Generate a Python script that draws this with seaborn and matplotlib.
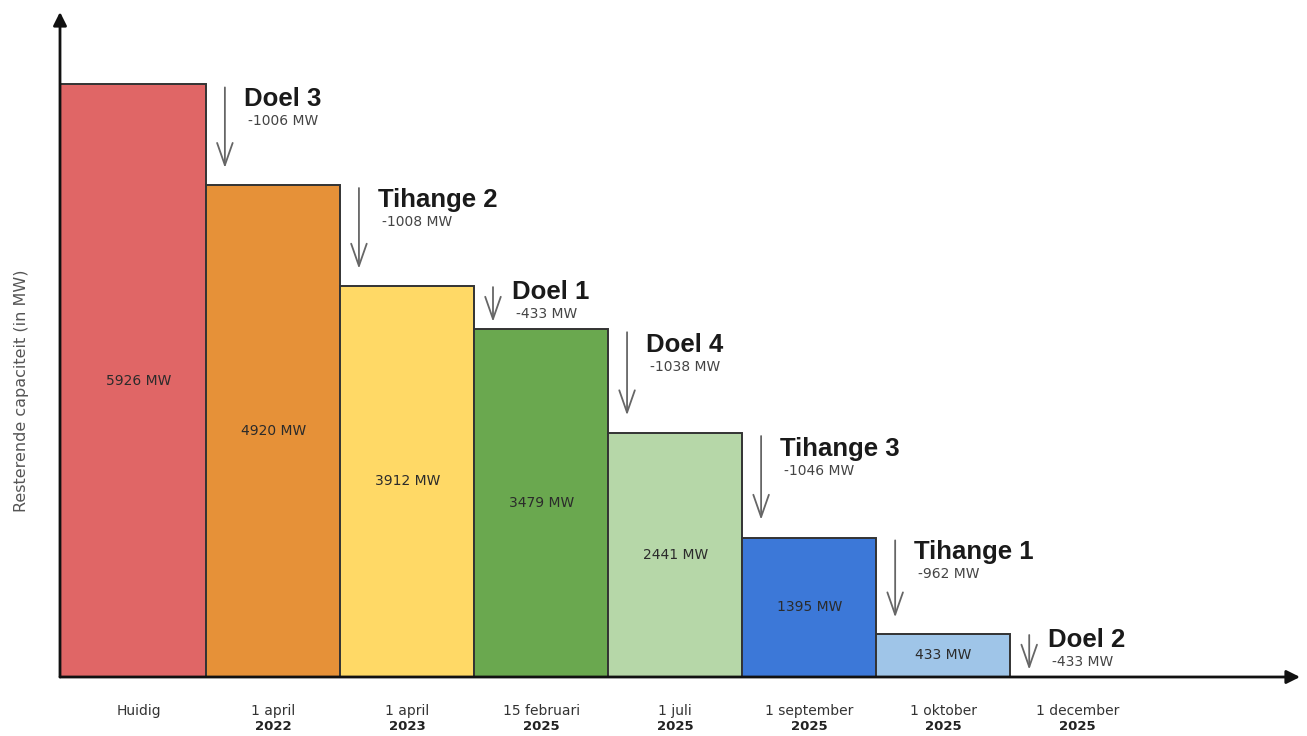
import matplotlib
matplotlib.use("Agg")
import matplotlib.pyplot as plt
import seaborn as sns
import pandas as pd

# Remaining Belgian nuclear capacity after each reactor shutdown
dates = ["Huidig", "1 april", "1 april", "15 februari", "1 juli",
         "1 september", "1 oktober", "1 december"]
years = ["", "2022", "2023", "2025", "2025", "2025", "2025", "2025"]
capacity_mw = [5926, 4920, 3912, 3479, 2441, 1395, 433]
reactors = ["Doel 3", "Tihange 2", "Doel 1", "Doel 4",
            "Tihange 3", "Tihange 1", "Doel 2"]
reduction_mw = [-1006, -1008, -433, -1038, -1046, -962, -433]
bar_colors = ["#E06666", "#E69138", "#FFD966", "#6AA84F",
              "#B6D7A8", "#3C78D8", "#9FC5E8"]

sns.set_style("white")
plt.rcParams["font.family"] = ["DejaVu Sans"]

fig = plt.figure(figsize=(13.07, 7.36), dpi=100)
ax = fig.add_axes([60 / 1307, 59 / 736, 1240 / 1307, 665 / 736])

df = pd.DataFrame({"stap": [str(i) for i in range(len(capacity_mw))],
                   "mw": capacity_mw})
sns.barplot(data=df, x="stap", y="mw", hue="stap", palette=bar_colors,
            width=1.0, edgecolor="#333333", linewidth=1.4, saturation=1,
            legend=False, ax=ax)

x_min, x_max = -0.59, 8.66
ax.set_xlim(x_min, x_max)
ax.set_ylim(0, 6650)

# first bar runs up to the vertical axis
first = min(ax.patches, key=lambda p: p.get_x())
right_edge = first.get_x() + first.get_width()
first.set_x(x_min)
first.set_width(right_edge - x_min)

for s in ax.spines.values():
    s.set_visible(False)
ax.set_xticks([])
ax.set_yticks([])
ax.set_xlabel("")
ax.set_ylabel("Resterende capaciteit (in MW)", fontsize=11.5, color="#555555")
ax.yaxis.set_label_coords(-0.025, 0.43)

# axis lines with arrow heads
axis_arrow = dict(arrowstyle="-|>", lw=2, color="#111111",
                  mutation_scale=20, shrinkA=0, shrinkB=0)
ax.annotate("", xy=(1, 0), xytext=(0, 0), xycoords="axes fraction",
            arrowprops=axis_arrow, annotation_clip=False)
ax.annotate("", xy=(0, 1), xytext=(0, 0), xycoords="axes fraction",
            arrowprops=axis_arrow, annotation_clip=False)

# value labels inside the bars
for i, v in enumerate(capacity_mw):
    ax.text(i, v / 2, f"{v} MW", ha="center", va="center",
            fontsize=10, color="#2b2b2b")

# date labels under the axis
xt = ax.get_xaxis_transform()
for i, (d, yr) in enumerate(zip(dates, years)):
    ax.text(i, -0.051, d, transform=xt, ha="center", va="center",
            fontsize=10, color="#333333")
    if yr:
        ax.text(i, -0.075, yr, transform=xt, ha="center", va="center",
                fontsize=9.5, fontweight="bold", color="#222222")

# shutdown arrows and labels between consecutive steps
levels = capacity_mw + [0]
for i, (name, red) in enumerate(zip(reactors, reduction_mw)):
    prev, nxt = levels[i], levels[i + 1]
    drop = abs(red)
    xa = i + 0.5 + 0.14
    top = prev - 0.03 * drop
    bottom = nxt + 0.17 * drop
    ax.annotate("", xy=(xa, bottom), xytext=(xa, top),
                arrowprops=dict(arrowstyle="->,head_length=0.8,head_width=0.28",
                                lw=1.3, color="#666666", mutation_scale=20,
                                shrinkA=0, shrinkB=0))
    ylab = top - 0.12 * drop
    ax.text(xa + 0.14, ylab, name, ha="left", va="center",
            fontsize=18.5, fontweight="bold", family="Liberation Sans",
            color="#1a1a1a")
    ax.text(xa + 0.17, ylab - 220, f"{red} MW", ha="left", va="center",
            fontsize=10, color="#444444")

fig.savefig("out.png", dpi=100, facecolor="white")
